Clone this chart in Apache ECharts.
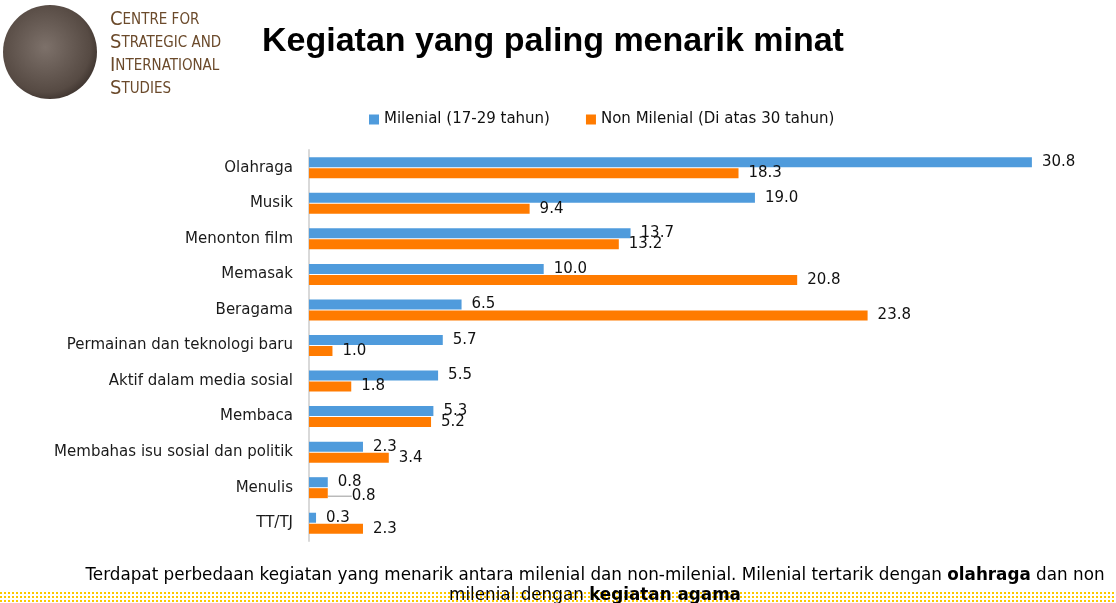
<!DOCTYPE html>
<html>
<head>
<meta charset="utf-8">
<style>
html,body{margin:0;padding:0;background:#fff;}
#main{width:1116px;height:603px;}
</style>
<script src="https://cdn.jsdelivr.net/npm/echarts@6/dist/echarts.min.js"></script>
</head>
<body>
<div id="main"></div>
<script>
// data
var categories = ['Olahraga','Musik','Menonton film','Memasak','Beragama','Permainan dan teknologi baru','Aktif dalam media sosial','Membaca','Membahas isu sosial dan politik','Menulis','TT/TJ'];
var milenial = [30.8, 19.0, 13.7, 10.0, 6.5, 5.7, 5.5, 5.3, 2.3, 0.8, 0.3];
var nonMilenial = [18.3, 9.4, 13.2, 20.8, 23.8, 1.0, 1.8, 5.2, 3.4, 0.8, 2.3];
var seriesNames = ['Milenial (17-29 tahun)', 'Non Milenial (Di atas 30 tahun)'];

var lblFont = 'DejaVu Sans';

// pola titik kuning di bawah
function dotPattern(){
	var c = document.createElement('canvas');
	c.width = 4; c.height = 4;
	var ctx = c.getContext('2d');
	ctx.fillStyle = '#fcc800';
	ctx.fillRect(0,0,2,2);
	return c;
}

// label "Menulis" non milenial digeser + garis penunjuk
var nonMilData = nonMilenial.map(function(v, i){
	if (i === 9) return {value: v, labelLine: {show: true}};
	return v;
});

var myChart = echarts.init(document.getElementById('main'));
var option = {
	backgroundColor: '#fff',
	animation: false,
	textStyle: {fontFamily: lblFont},
	legend: {
		top: 107,
		left: 364,
		itemWidth: 10,
		itemHeight: 10,
		itemGap: 36,
		icon: 'rect',
		textStyle: {fontSize: 15, color: '#111', fontFamily: lblFont},
		data: seriesNames
	},
	grid: {left: 309, right: 9, top: 150, height: 391},
	xAxis: {
		type: 'value', min: 0, max: 34, show: false
	},
	yAxis: {
		type: 'category',
		inverse: true,
		data: categories,
		axisLine: {show: true, lineStyle: {color: '#d9d9d9', width: 2}},
		axisTick: {show: false},
		axisLabel: {fontSize: 15, color: '#1a1a1a', margin: 16, fontFamily: lblFont}
	},
	series: [
		{
			name: seriesNames[0], type: 'bar', data: milenial,
			barWidth: 10, barGap: '10%',
			itemStyle: {color: '#4f9bdc'},
			label: {show: true, position: 'right', distance: 10, fontSize: 15, color: '#111',
				formatter: function(p){ return p.value.toFixed(1); }}
		},
		{
			name: seriesNames[1], type: 'bar', data: nonMilData,
			barWidth: 10, barGap: '10%',
			itemStyle: {color: '#ff7b00'},
			label: {show: true, position: 'right', distance: 10, fontSize: 15, color: '#111',
				formatter: function(p){ return p.value.toFixed(1); }},
			labelLine: {show: false, lineStyle: {color: '#999', width: 1}},
			labelLayout: function(p){
				if (p.dataIndex === 9) return {dx: 14, dy: 3};
			}
		}
	],
	graphic: [
		{
			type: 'circle', shape: {cx: 50, cy: 52, r: 47},
			style: {fill: new echarts.graphic.RadialGradient(0.45, 0.45, 0.6, [
				{offset: 0, color: '#7d716a'}, {offset: 0.8, color: '#564a43'}, {offset: 1, color: '#3a302b'}
			])}
		},
		{
			type: 'text', left: 110, top: 10,
			style: {
				text: '{b|C}{s|ENTRE FOR}\n{b|S}{s|TRATEGIC AND}\n{b|I}{s|NTERNATIONAL}\n{b|S}{s|TUDIES}',
				rich: {
					b: {fontSize: 20, fill: '#6b4a2b', fontFamily: 'DejaVu Sans Condensed', lineHeight: 23},
					s: {fontSize: 15, fill: '#6b4a2b', fontFamily: 'DejaVu Sans Condensed', lineHeight: 23}
				}
			}
		},
		{
			type: 'text', left: 262, top: 25,
			style: {text: 'Kegiatan yang paling menarik minat', font: 'bold 34px "Liberation Sans"', fill: '#000'}
		},
		{
			type: 'rect', shape: {x: 0, y: 590, width: 1116, height: 13},
			style: {fill: {image: dotPattern(), repeat: 'repeat'}}
		},
		{
			type: 'text', x: 595, y: 566,
			style: {
				text: 'Terdapat perbedaan kegiatan yang menarik antara milenial dan non-milenial. Milenial tertarik dengan {k|olahraga} dan non\nmilenial dengan {k|kegiatan agama}',
				align: 'center',
				fontSize: 16.8, fontFamily: lblFont, fill: '#000', lineHeight: 20,
				rich: {k: {fontSize: 16.8, fontWeight: 'bold', fontFamily: lblFont, fill: '#000'}}
			}
		}
	]
};
myChart.setOption(option);
</script>
</body>
</html>
